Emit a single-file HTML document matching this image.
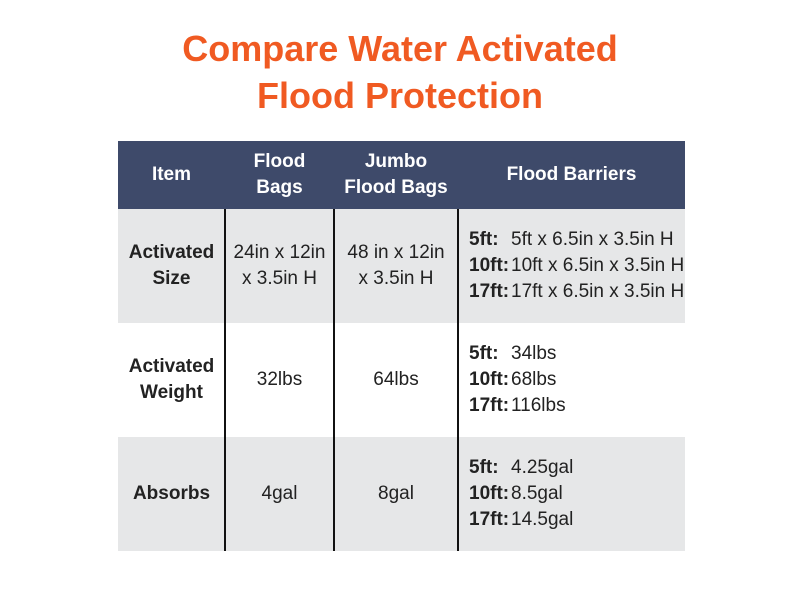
<!DOCTYPE html>
<html><head><meta charset="utf-8"><style>
body{margin:0;width:800px;height:600px;background:#fff;position:relative;overflow:hidden;font-family:"Liberation Sans Narrow","Liberation Sans",sans-serif;}
.t{position:absolute;left:0;width:800px;text-align:center;color:#f05a22;font:bold 36px "Liberation Sans",sans-serif;}
.c{position:absolute;display:flex;align-items:center;justify-content:center;text-align:center;font-size:19px;color:#222;line-height:26px;}
.h{color:#fff;font-weight:bold;font-size:19px;}
.b{font-weight:bold;}
.vl{position:absolute;top:209px;height:342px;width:2px;background:#111;}
.fb{justify-content:flex-start;text-align:left;padding-left:11px;box-sizing:border-box;}
.fb span.b{display:inline-block;width:42px;}
</style></head><body>
<div class="t" style="top:28px">Compare Water Activated</div>
<div class="t" style="top:75px">Flood Protection</div>
<div style="position:absolute;left:118px;top:141px;width:567px;height:68px;background:#3e4a6a"></div>
<div style="position:absolute;left:118px;top:209px;width:567px;height:114px;background:#e6e7e8"></div>
<div style="position:absolute;left:118px;top:437px;width:567px;height:114px;background:#e6e7e8"></div>
<div class="vl" style="left:224px"></div>
<div class="vl" style="left:333px"></div>
<div class="vl" style="left:457px"></div>

<div class="c h" style="left:118px;top:141px;width:107px;height:68px">Item</div>
<div class="c h" style="left:225px;top:141px;width:109px;height:68px">Flood<br>Bags</div>
<div class="c h" style="left:334px;top:141px;width:124px;height:68px">Jumbo<br>Flood Bags</div>
<div class="c h" style="left:458px;top:141px;width:227px;height:68px">Flood Barriers</div>

<div class="c b" style="left:118px;top:209px;width:107px;height:114px">Activated<br>Size</div>
<div class="c" style="left:225px;top:209px;width:109px;height:114px">24in x 12in<br>x 3.5in H</div>
<div class="c" style="left:334px;top:209px;width:124px;height:114px">48 in x 12in<br>x 3.5in H</div>
<div class="c fb" style="left:458px;top:209px;width:227px;height:114px"><div><span class="b">5ft:</span>5ft x 6.5in x 3.5in H<br><span class="b">10ft:</span>10ft x 6.5in x 3.5in H<br><span class="b">17ft:</span>17ft x 6.5in x 3.5in H</div></div>

<div class="c b" style="left:118px;top:323px;width:107px;height:114px">Activated<br>Weight</div>
<div class="c" style="left:225px;top:323px;width:109px;height:114px">32lbs</div>
<div class="c" style="left:334px;top:323px;width:124px;height:114px">64lbs</div>
<div class="c fb" style="left:458px;top:323px;width:227px;height:114px"><div><span class="b">5ft:</span>34lbs<br><span class="b">10ft:</span>68lbs<br><span class="b">17ft:</span>116lbs</div></div>

<div class="c b" style="left:118px;top:437px;width:107px;height:114px">Absorbs</div>
<div class="c" style="left:225px;top:437px;width:109px;height:114px">4gal</div>
<div class="c" style="left:334px;top:437px;width:124px;height:114px">8gal</div>
<div class="c fb" style="left:458px;top:437px;width:227px;height:114px"><div><span class="b">5ft:</span>4.25gal<br><span class="b">10ft:</span>8.5gal<br><span class="b">17ft:</span>14.5gal</div></div>
</body></html>
